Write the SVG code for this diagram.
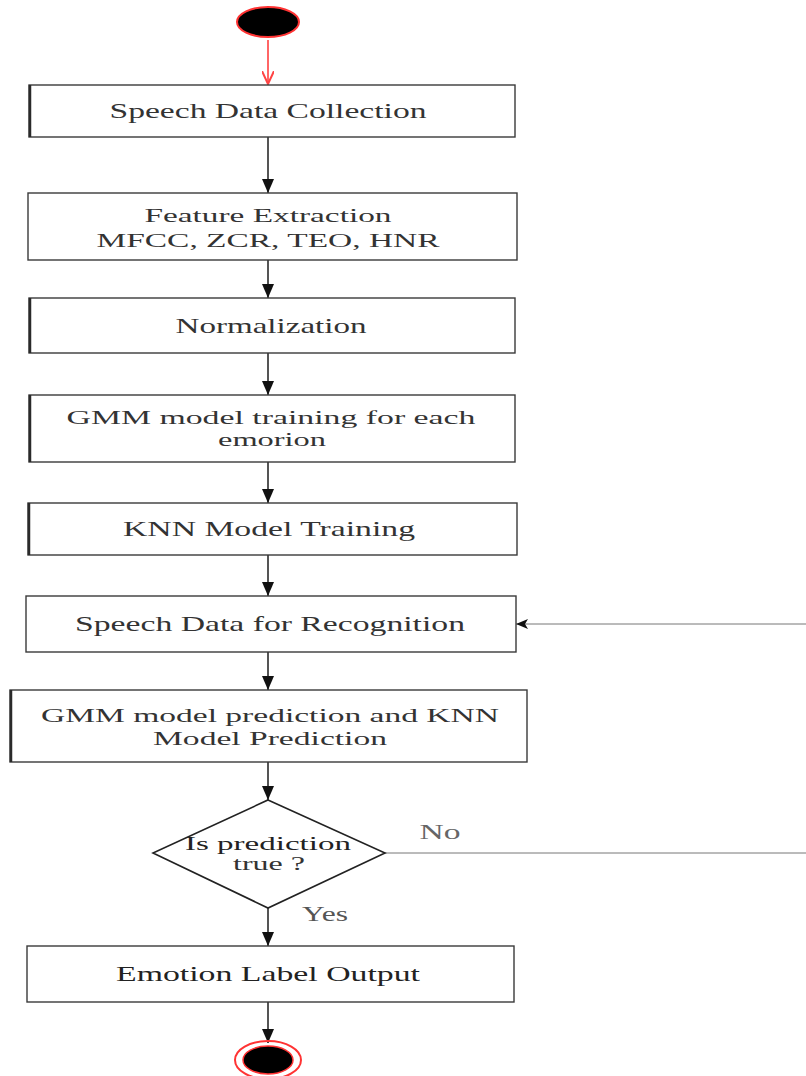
<svg xmlns="http://www.w3.org/2000/svg" width="806" height="1076" viewBox="0 0 806 1076">
<style>
.box{fill:#fff;stroke:#3a3a3a;stroke-width:1.4}
.edge{stroke:#2a2a2a;stroke-width:2.5}
.t{font-family:"Liberation Serif","Times New Roman",serif;font-size:21px;fill:#333;text-anchor:middle}
.t2{font-size:18px}
.c{stroke:#555;stroke-width:2;fill:none}
.thin{stroke:#777;stroke-width:1;fill:none}
</style>
<defs>
<marker id="ah" markerWidth="14" markerHeight="12" refX="14" refY="6" orient="auto" markerUnits="userSpaceOnUse">
<path d="M0,0 L14,6 L0,12 Z" fill="#111"/>
</marker>
<marker id="ahs" markerWidth="12" markerHeight="10" refX="12" refY="5" orient="auto" markerUnits="userSpaceOnUse">
<path d="M0,0 L12,5 L0,10 L3,5 Z" fill="#111"/>
</marker>
<marker id="ahr" markerWidth="14" markerHeight="12" refX="13" refY="6" orient="auto" markerUnits="userSpaceOnUse">
<path d="M0,0 L13,6 L0,12" fill="none" stroke="#f44" stroke-width="2"/>
</marker>
</defs>
<rect width="806" height="1076" fill="#fff"/>
<g id="connectors">
<line x1="268" y1="40" x2="268" y2="84" stroke="#f66" stroke-width="2" marker-end="url(#ahr)"/>
<line class="c" x1="268" y1="137" x2="268" y2="193" marker-end="url(#ah)"/>
<line class="c" x1="268" y1="260" x2="268" y2="298" marker-end="url(#ah)"/>
<line class="c" x1="268" y1="353" x2="268" y2="395" marker-end="url(#ah)"/>
<line class="c" x1="268" y1="462" x2="268" y2="503" marker-end="url(#ah)"/>
<line class="c" x1="268" y1="555" x2="268" y2="596" marker-end="url(#ah)"/>
<line class="c" x1="268" y1="652" x2="268" y2="690" marker-end="url(#ah)"/>
<line class="c" x1="268" y1="762" x2="268" y2="800" marker-end="url(#ah)"/>
<line class="c" x1="268" y1="908" x2="268" y2="946" marker-end="url(#ah)"/>
<line class="c" x1="268" y1="1002" x2="268" y2="1043" marker-end="url(#ah)"/>
<line class="thin" x1="806" y1="624" x2="516" y2="624" marker-end="url(#ahs)"/>
<line class="thin" x1="385" y1="853" x2="806" y2="853"/>
<text class="t" x="440" y="839" textLength="41" lengthAdjust="spacingAndGlyphs" style="fill:#666">No</text>
<text class="t" x="325" y="921" textLength="46" lengthAdjust="spacingAndGlyphs" style="fill:#555">Yes</text>
</g>
<g id="start">
<ellipse cx="268" cy="22" rx="31" ry="15" fill="#000" stroke="#f33" stroke-width="2"/>
</g>
<g id="n1">
<rect class="box" x="29" y="85" width="486" height="52"/>
<line class="edge" x1="30" y1="85" x2="30" y2="137"/>
<text class="t" x="268" y="118" textLength="317" lengthAdjust="spacingAndGlyphs">Speech Data Collection</text>
</g>
<g id="n2">
<rect class="box" x="28" y="193" width="489" height="67"/>
<text class="t t2" x="268" y="222" textLength="247" lengthAdjust="spacingAndGlyphs">Feature Extraction</text>
<text class="t t2" x="268" y="247" textLength="343" lengthAdjust="spacingAndGlyphs">MFCC, ZCR, TEO, HNR</text>
</g>
<g id="n3">
<rect class="box" x="29" y="298" width="486" height="55"/>
<line class="edge" x1="30" y1="298" x2="30" y2="353"/>
<text class="t" x="271" y="333" textLength="191" lengthAdjust="spacingAndGlyphs">Normalization</text>
</g>
<g id="n4">
<rect class="box" x="29" y="395" width="486" height="67"/>
<line class="edge" x1="30" y1="395" x2="30" y2="462"/>
<text class="t t2" x="271" y="424" textLength="409" lengthAdjust="spacingAndGlyphs">GMM model training for each</text>
<text class="t t2" x="272" y="446" textLength="108" lengthAdjust="spacingAndGlyphs">emorion</text>
</g>
<g id="n5">
<rect class="box" x="28" y="503" width="489" height="52"/>
<line class="edge" x1="29" y1="503" x2="29" y2="555"/>
<text class="t" x="269" y="536" textLength="292" lengthAdjust="spacingAndGlyphs">KNN Model Training</text>
</g>
<g id="n6">
<rect class="box" x="26" y="596" width="490" height="56"/>
<text class="t" x="270" y="631" textLength="390" lengthAdjust="spacingAndGlyphs">Speech Data for Recognition</text>
</g>
<g id="n7">
<rect class="box" x="10" y="690" width="517" height="72"/>
<line class="edge" x1="11" y1="690" x2="11" y2="762"/>
<text class="t t2" x="270" y="722" textLength="458" lengthAdjust="spacingAndGlyphs">GMM model prediction and KNN</text>
<text class="t t2" x="270" y="745" textLength="234" lengthAdjust="spacingAndGlyphs">Model Prediction</text>
</g>
<g id="decision">
<polygon points="268,800 385,853 268,908 153,853" fill="#fff" stroke="#222" stroke-width="1.6"/>
<text class="t t2" x="268" y="850" textLength="166" lengthAdjust="spacingAndGlyphs" style="fill:#222">Is prediction</text>
<text class="t t2" x="269" y="870" textLength="72" lengthAdjust="spacingAndGlyphs">true ?</text>
</g>
<g id="n8">
<rect class="box" x="27" y="946" width="487" height="56"/>
<text class="t" x="268" y="981" textLength="304" lengthAdjust="spacingAndGlyphs" style="fill:#222">Emotion Label Output</text>
</g>
<g id="end">
<ellipse cx="268" cy="1060" rx="33" ry="19" fill="none" stroke="#f33" stroke-width="2"/>
<ellipse cx="268" cy="1060" rx="25" ry="14" fill="#000" stroke="#f33" stroke-width="1.5"/>
</g>
</svg>
